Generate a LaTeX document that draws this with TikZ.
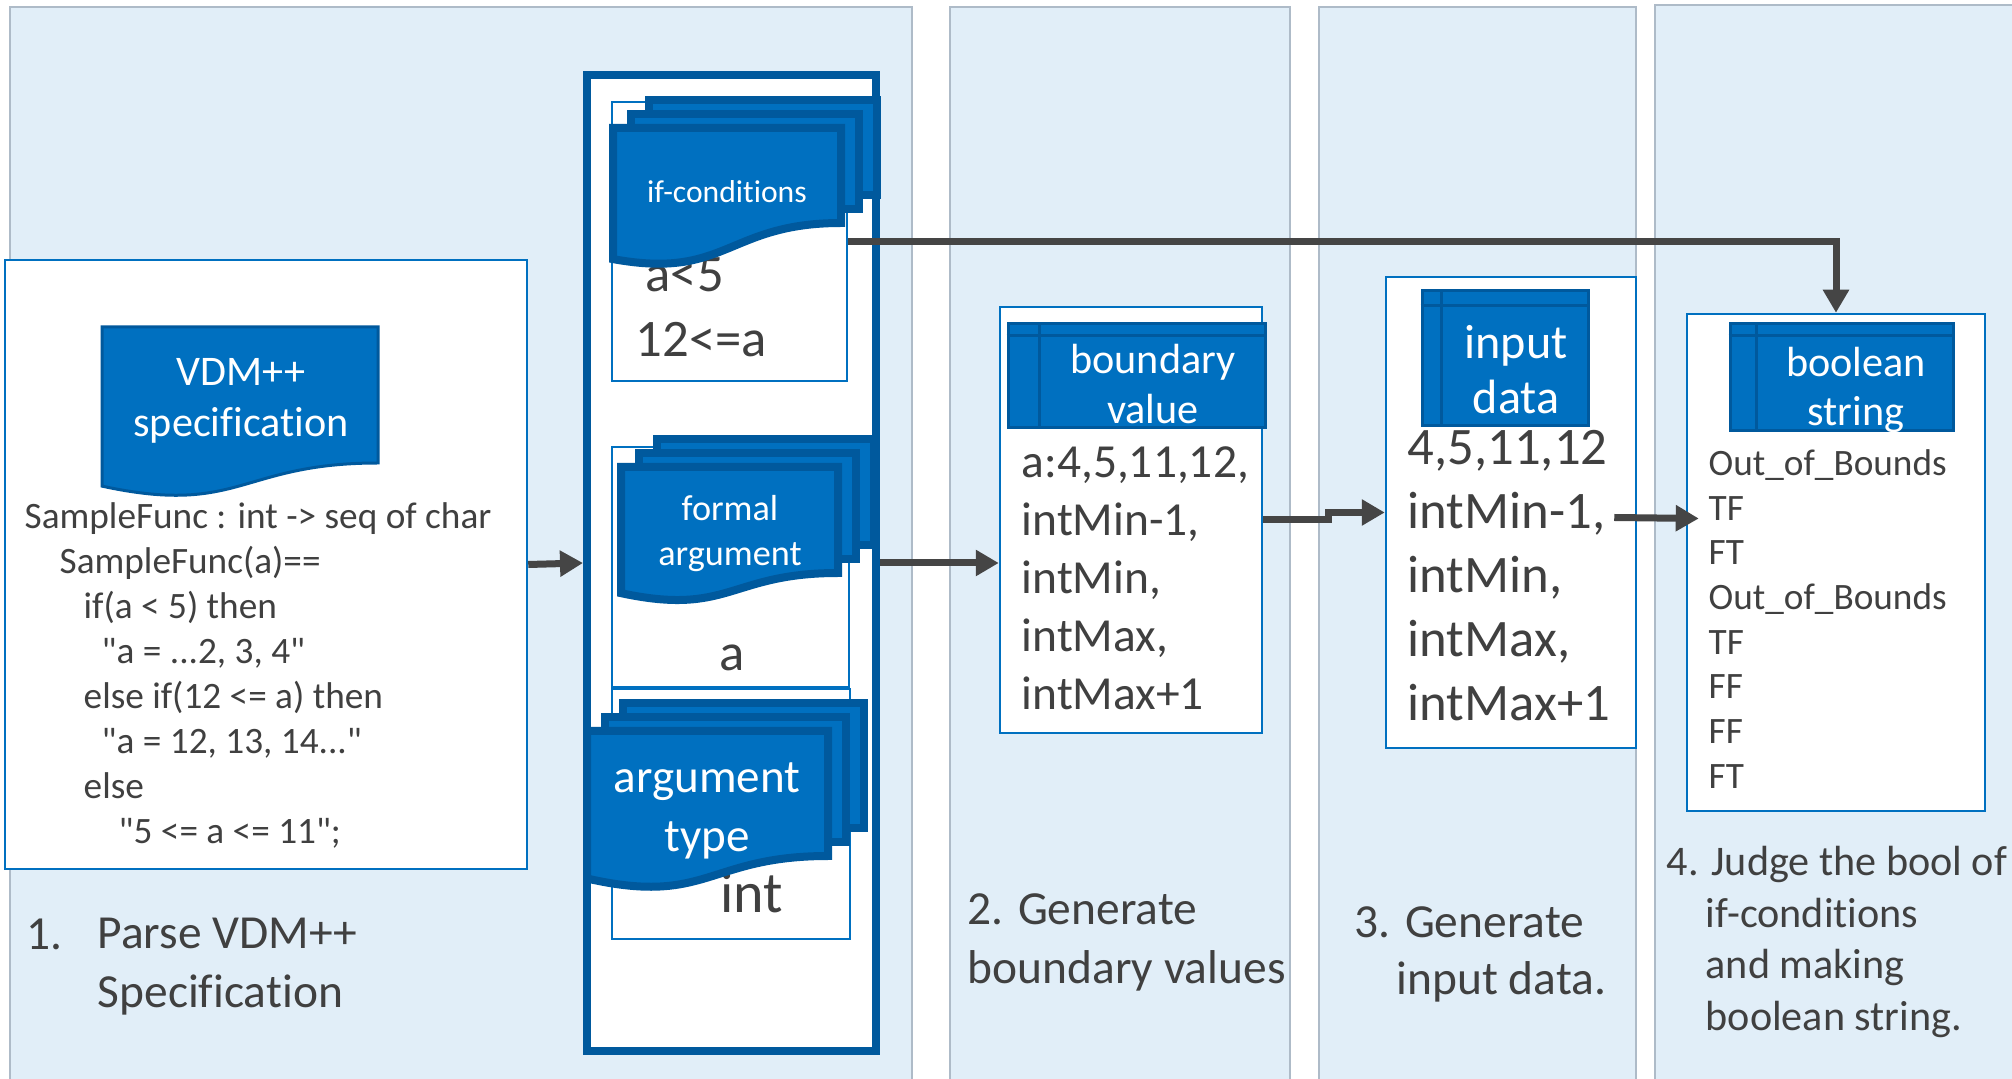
\documentclass[tikz,border=0pt]{standalone}
\usepackage{fontspec}
\setmainfont{Carlito}[Ligatures={TeXOff,NoCommon}]
\usetikzlibrary{arrows.meta,fit,positioning}

\definecolor{panelfill}{HTML}{E1EEF8}
\definecolor{panelline}{HTML}{AEBBC8}
\definecolor{vdmblue}{HTML}{0070C0}
\definecolor{vdmdark}{HTML}{00599D}
\definecolor{textgray}{HTML}{404040}
\definecolor{flowgray}{HTML}{454545}

\tikzset{
  panel/.style={fill=panelfill,draw=panelline,line width=0.25mm},
  box/.style={draw=vdmblue,fill=white,line width=0.25mm,inner sep=0pt},
  stagebox/.style={draw=vdmdark,fill=white,line width=0.8mm,inner sep=0pt},
  pagedoc/.style={fill=vdmblue,draw=vdmdark,line width=0.8mm},
  plaindoc/.style={fill=vdmblue,draw=vdmdark,line width=0.3mm},
  store/.style={fill=vdmblue,draw=vdmdark,line width=0.3mm,inner sep=0pt},
  storeline/.style={draw=vdmdark,line width=0.3mm},
  doctext/.style={text=white,align=center,inner sep=0pt},
  code/.style={text=textgray,align=left,anchor=west,inner sep=0pt},
  plain/.style={text=textgray,inner sep=0pt},
  flow/.style={draw=flowgray,line width=0.7mm,-{Triangle[length=2.3mm,width=2.5mm]}},
}

\newcommand{\fs}[2]{\fontsize{#1}{#2}\selectfont}
% document shape: x, y, width, height of the right edge, depth of the left end
\newcommand{\wavedoc}[6][]{%
  \filldraw[#1] (#2,#3) -- (#2+#4,#3) -- (#2+#4,#3+#5)
    .. controls (#2+0.5*#4,#3+#5) and (#2+0.5*#4,#3+#6*#5+0.22*#5) .. (#2,#3+#6*#5) -- cycle;}
% stack of three pages
\newcommand{\stackdoc}[5]{%
  \filldraw[pagedoc] (#1+36,#2-28) rectangle (#1+36+#3,#2+#4-28);
  \filldraw[pagedoc] (#1+18,#2-14) rectangle (#1+18+#3,#2+#4-14);
  \wavedoc[pagedoc]{#1}{#2}{#3}{#4}{#5}}

\begin{document}
\begin{tikzpicture}[x=0.1mm,y=-0.1mm]
\useasboundingbox (0,0) rectangle (2012,1079);
\clip (0,0) rectangle (2012,1079);

% stage panels
\draw[panel] (10,7) rectangle (912,1100);
\draw[panel] (950,7) rectangle (1290,1100);
\draw[panel] (1319,7) rectangle (1636,1100);
\draw[panel] (1655,5) rectangle (2030,1100);

% 1. parse
\node[box,fit={(5,260) (527,869)}] (spec) {};
\wavedoc[plaindoc]{102}{327}{276}{136}{1.17}
\node[doctext,font=\fs{12}{14.5}] (vdm) at (241,401) {VDM++\\specification};
\node[code,font=\fs{10.6}{12.8}] (code) at (24,675) {SampleFunc : int -> seq of char\\
  \hspace*{3.5mm}SampleFunc(a)==\\
  \hspace*{5.9mm}if(a < 5) then\\
  \hspace*{7.7mm}"a = ...2, 3, 4"\\
  \hspace*{5.9mm}else if(12 <= a) then\\
  \hspace*{7.7mm}"a = 12, 13, 14..."\\
  \hspace*{5.9mm}else\\
  \hspace*{9.4mm}"5 <= a <= 11";};
\node[code,font=\fs{13.5}{16.8}] (step1num) at (26,934) {1.};
\node[code,font=\fs{13.5}{16.8}] (step1) at (97,967) {Parse VDM++\\Specification};

% extracted items
\node[stagebox,fit={(587,75) (876,1051)}] (extract) {};
\node[box,fit={(612,102) (847,381)}] (ifbox) {};
\node[box,fit={(612,447) (849,687)}] (argbox) {};
\node[box,fit={(612,689) (850,939)}] (typebox) {};
\node[code,font=\fs{15}{18.4}] (ifvals) at (635,307) {\hspace*{1mm}a<5\\12<=a};
\node[plain,font=\fs{15}{18}] (argname) at (732,658) {a};
\node[plain,font=\fs{16.5}{20}] (argtype) at (752,893) {int};
\stackdoc{613}{128}{228}{95}{1.38}
\node[doctext,font=\fs{9}{11}] (iflabel) at (727,192) {if-conditions};
\stackdoc{621}{467}{217}{106}{1.19}
\node[doctext,font=\fs{10.3}{12.8}] (arglabel) at (730,534) {formal\\argument};
\stackdoc{587}{731}{241}{125}{1.18}
\node[doctext,font=\fs{13.4}{16.8}] (typelabel) at (707,811) {argument\\type};

% 2. boundary values
\node[box,fit={(1000,307) (1262,733)}] (bound) {};
\node[store,fit={(1008,324) (1265,428)}] (boundhead) {};
\draw[storeline] ([shift={(0,13)}]boundhead.north west) -- ([shift={(0,13)}]boundhead.north east);
\draw[storeline] ([shift={(33,0)}]boundhead.north west) -- ([shift={(33,0)}]boundhead.south west);
\node[doctext,font=\fs{12}{14.2}] (boundtitle) at (1153,384) {boundary\\value};
\node[code,font=\fs{13.5}{16.5}] (boundvals) at (1021,578) {a:4,5,11,12,\\intMin-1,\\intMin,\\intMax,\\intMax+1};
\node[code,font=\fs{13.5}{16.8}] (step2) at (967,942) {2. Generate\\boundary values};

% 3. input data
\node[box,fit={(1386,277) (1636,748)}] (input) {};
\node[store,fit={(1422,291) (1588,426)}] (inputhead) {};
\draw[storeline] ([shift={(0,16)}]inputhead.north west) -- ([shift={(0,16)}]inputhead.north east);
\draw[storeline] ([shift={(21,0)}]inputhead.north west) -- ([shift={(21,0)}]inputhead.south west);
\node[doctext,font=\fs{13.7}{15.6}] (inputtitle) at (1516,370) {input\\data};
\node[code,font=\fs{15}{18.2}] (inputvals) at (1407,576) {4,5,11,12\\intMin-1,\\intMin,\\intMax,\\intMax+1};
\node[code,font=\fs{13.5}{16.2}] (step3) at (1354,954) {3. Generate\\\hspace*{4.2mm}input data.};

% 4. boolean string
\node[box,fit={(1687,314) (1985,811)}] (boolean) {};
\node[store,fit={(1730,324) (1953,431)}] (boolhead) {};
\draw[storeline] ([shift={(0,13)}]boolhead.north west) -- ([shift={(0,13)}]boolhead.north east);
\draw[storeline] ([shift={(28,0)}]boolhead.north west) -- ([shift={(28,0)}]boolhead.south west);
\node[doctext,font=\fs{12}{14.2}] (booltitle) at (1856,390) {boolean\\string};
\node[code,font=\fs{10.6}{12.7}] (boolvals) at (1708,619) {Out\_of\_Bounds\\TF\\FT\\Out\_of\_Bounds\\TF\\FF\\FF\\FT};
\node[code,font=\fs{12}{14.7}] (step4) at (1666,942) {4. Judge the bool of\\\hspace*{3.9mm}if-conditions\\\hspace*{3.9mm}and making\\\hspace*{3.9mm}boolean string.};

% connectors
\draw[flow] (spec.east) -- (extract.west);
\draw[flow] (extract.east) -- (extract.east -| bound.west);
\draw[flow] (bound.east) -- ++(65,0) |- (input.west);
\draw[flow] ([shift={(-23,5)}]input.east) -- ([shift={(13,-44)}]boolean.west);
\draw[flow] (ifbox.east) -| (boolean.north);
\end{tikzpicture}
\end{document}
